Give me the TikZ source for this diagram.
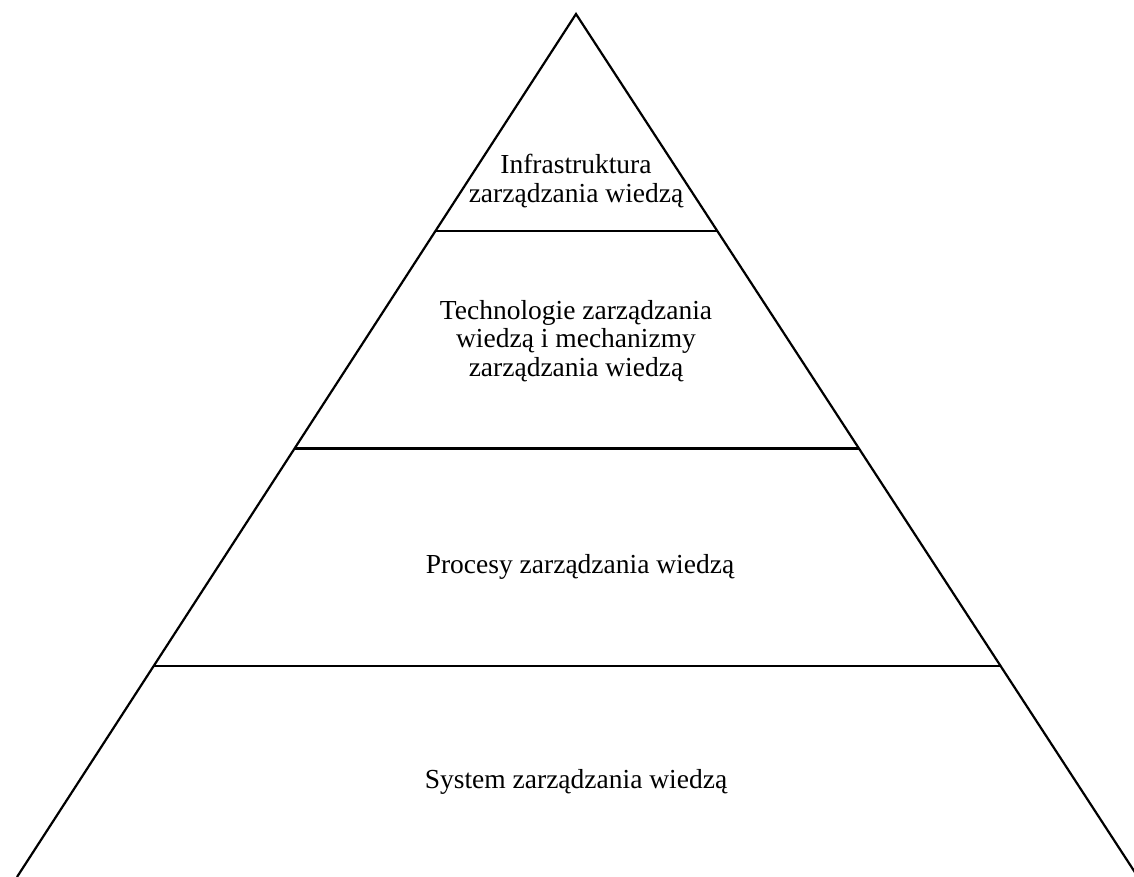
\documentclass[tikz,border=0pt]{standalone}
\usepackage{fontspec}
\setmainfont{Liberation Serif}
\usetikzlibrary{calc}
\begin{document}
\begin{tikzpicture}[x=1pt,y=-1pt,
  edge/.style={line width=2.2pt,line join=miter},
  label/.style={align=center,font=\fontsize{27.5}{28.8}\selectfont,inner sep=0pt}]
\useasboundingbox (0,0) rectangle (1134,877);
\coordinate (apex) at (576,14);
\coordinate (bl) at (17,877);
\coordinate (br) at (1138,877);
\draw[edge] (bl) -- (apex) -- (br);
\foreach \t/\n in {0.2515/a,0.5035/b,0.7555/c}{
  \coordinate (l\n) at ($(apex)!\t!(bl)$);
  \coordinate (r\n) at ($(apex)!\t!(br)$);
  \draw[edge] (l\n) -- (r\n);
}
\node[label] (n1) at (576,181) {Infrastruktura\\zarządzania wiedzą};
\node[label] (n2) at (576,341) {Technologie zarządzania\\wiedzą i mechanizmy\\zarządzania wiedzą};
\node[label,anchor=base] (n3) at (580,573) {Procesy zarządzania wiedzą};
\node[label,anchor=base] (n4) at (576,788) {System zarządzania wiedzą};
\end{tikzpicture}
\end{document}
